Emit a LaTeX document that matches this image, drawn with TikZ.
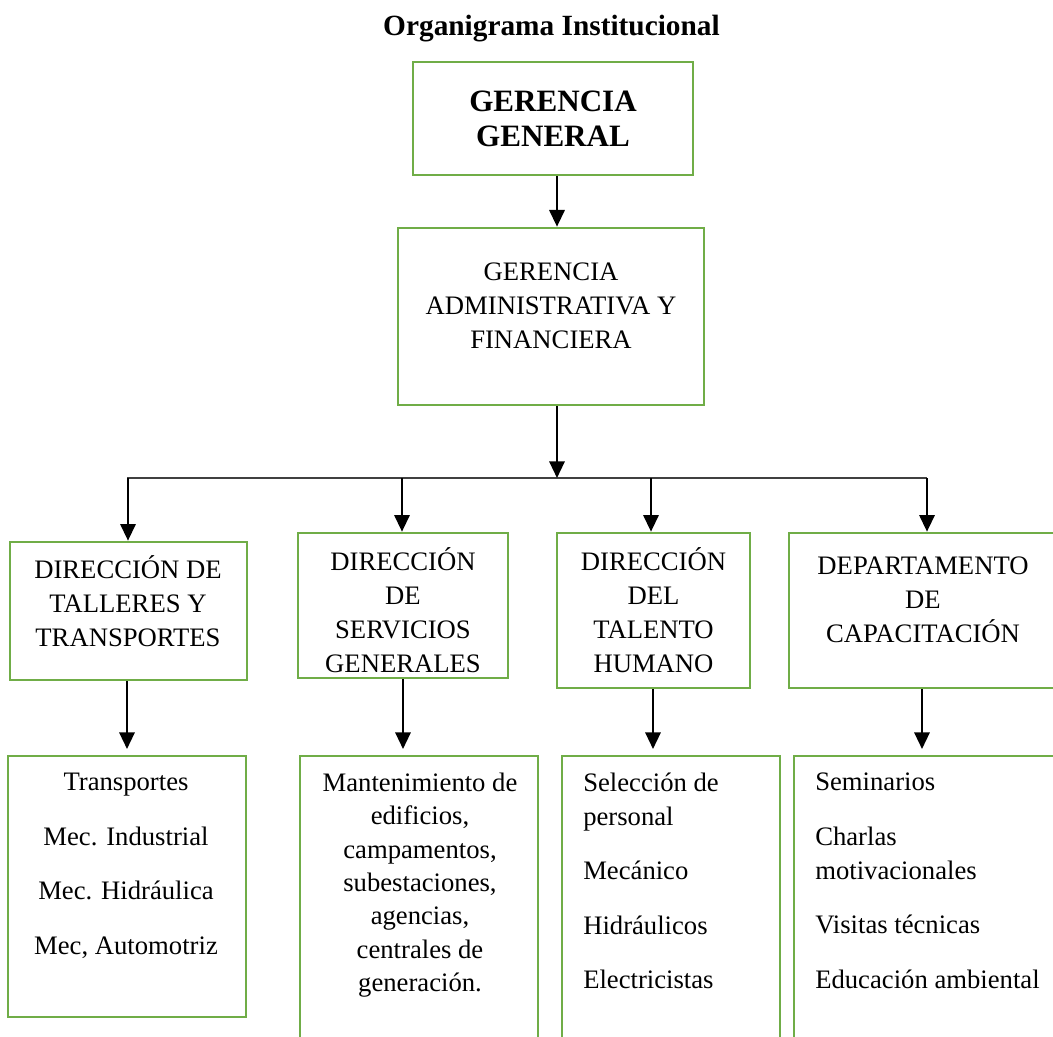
\documentclass[tikz,border=0pt]{standalone}
\usepackage{fontspec}
\setmainfont{Liberation Serif}
\usetikzlibrary{arrows.meta}
\definecolor{boxgreen}{RGB}{112,173,71}
\definecolor{hline}{RGB}{64,64,64}
\begin{document}
\begin{tikzpicture}[x=0.75pt,y=-0.75pt,
  box/.style={draw=boxgreen, line width=2pt, inner sep=0pt, rectangle},
  txt/.style={font=\fontsize{20}{25.5}\selectfont, align=center, inner sep=0pt},
  ltxt/.style={font=\fontsize{20}{25.5}\selectfont, align=left, inner sep=0pt, anchor=west},
  arr/.style={line width=1.7pt, -{Triangle[length=12.5pt,width=11.5pt]}},
  bar/.style={line width=0.9pt, draw=hline}]
\useasboundingbox (0,0) rectangle (1053,1037);

% title
\node[font=\fontsize{22}{26}\selectfont\bfseries, inner sep=0pt] (title) at (551.5,29) {Organigrama Institucional};

% boxes
\node[box, minimum width=280*0.75pt, minimum height=113*0.75pt] (gg) at (553,118.5) {};
\node[box, minimum width=306*0.75pt, minimum height=177*0.75pt] (gaf) at (551,316.5) {};
\node[box, minimum width=237*0.75pt, minimum height=138*0.75pt] (d1) at (128.5,611) {};
\node[box, minimum width=210*0.75pt, minimum height=145*0.75pt] (d2) at (403,605.5) {};
\node[box, minimum width=193*0.75pt, minimum height=155*0.75pt] (d3) at (653.5,610.5) {};
\node[box, minimum width=276*0.75pt, minimum height=155*0.75pt] (d4) at (927,610.5) {};
\node[box, minimum width=238*0.75pt, minimum height=261*0.75pt] (b5) at (127,886.5) {};
\node[box, minimum width=238*0.75pt, minimum height=304*0.75pt] (b6) at (419,908) {};
\node[box, minimum width=218*0.75pt, minimum height=304*0.75pt] (b7) at (671,908) {};
\node[box, minimum width=271*0.75pt, minimum height=304*0.75pt] (b8) at (929.5,908) {};

% texts
\node[txt, font=\fontsize{23.3}{26.25}\selectfont\bfseries] (tgg) at (553,118.5) {GERENCIA\\GENERAL};
\node[txt] (tgaf) at (551,305.5) {GERENCIA\\ADMINISTRATIVA Y\\FINANCIERA};
\node[txt] (td1) at (128,601.5) {DIRECCIÓN DE\\TALLERES Y\\TRANSPORTES};
\node[txt] (td2) at (403,610.5) {DIRECCIÓN\\DE\\SERVICIOS\\GENERALES};
\node[txt] (td3) at (653.5,610) {DIRECCIÓN\\DEL\\TALENTO\\HUMANO};
\node[txt] (td4) at (923,600) {DEPARTAMENTO\\DE\\CAPACITACIÓN};
\node[txt] (tb5) at (126,866) {Transportes\\[15.4pt]Mec. Industrial\\[15.4pt]Mec. Hidráulica\\[15.4pt]Mec, Automotriz};
\node[txt, font=\fontsize{20}{25}\selectfont] (tb6) at (420,885) {Mantenimiento de\\edificios,\\campamentos,\\subestaciones,\\agencias,\\centrales de\\generación.};
\node[ltxt] (tb7) at (583,881) {Selección de\\personal\\[15.4pt]Mecánico\\[15.4pt]Hidráulicos\\[15.4pt]Electricistas};
\node[ltxt] (tb8) at (815,881) {Seminarios\\[15.4pt]Charlas\\motivacionales\\[15.4pt]Visitas técnicas\\[15.4pt]Educación ambiental};

% connector guides
\coordinate (xm) at (557,0);
\coordinate (hl) at (127,478);
\coordinate (hr) at (927,478);
\coordinate (x1) at (128,0);
\coordinate (x2) at (402,0);
\coordinate (x3) at (651,0);
\coordinate (x4) at (927,0);
\coordinate (y1) at (0,749);
\coordinate (x5) at (127,0);
\coordinate (x6) at (403,0);
\coordinate (x7) at (653,0);
\coordinate (x8) at (922,0);

\draw[arr] (gg.south -| xm) -- (gaf.north -| xm);
\draw[bar] (hl) -- (hr);
\draw[arr] (gaf.south -| xm) -- (hl -| xm);
\draw[arr] (hl -| x1) -- (d1.north -| x1);
\draw[arr] (hl -| x2) -- (d2.north -| x2);
\draw[arr] (hl -| x3) -- (d3.north -| x3);
\draw[arr] (hr) -- (d4.north -| x4);
\draw[arr] (d1.south -| x5) -- (y1 -| x5);
\draw[arr] (d2.south -| x6) -- (y1 -| x6);
\draw[arr] (d3.south -| x7) -- (y1 -| x7);
\draw[arr] (d4.south -| x8) -- (y1 -| x8);
\end{tikzpicture}
\end{document}
